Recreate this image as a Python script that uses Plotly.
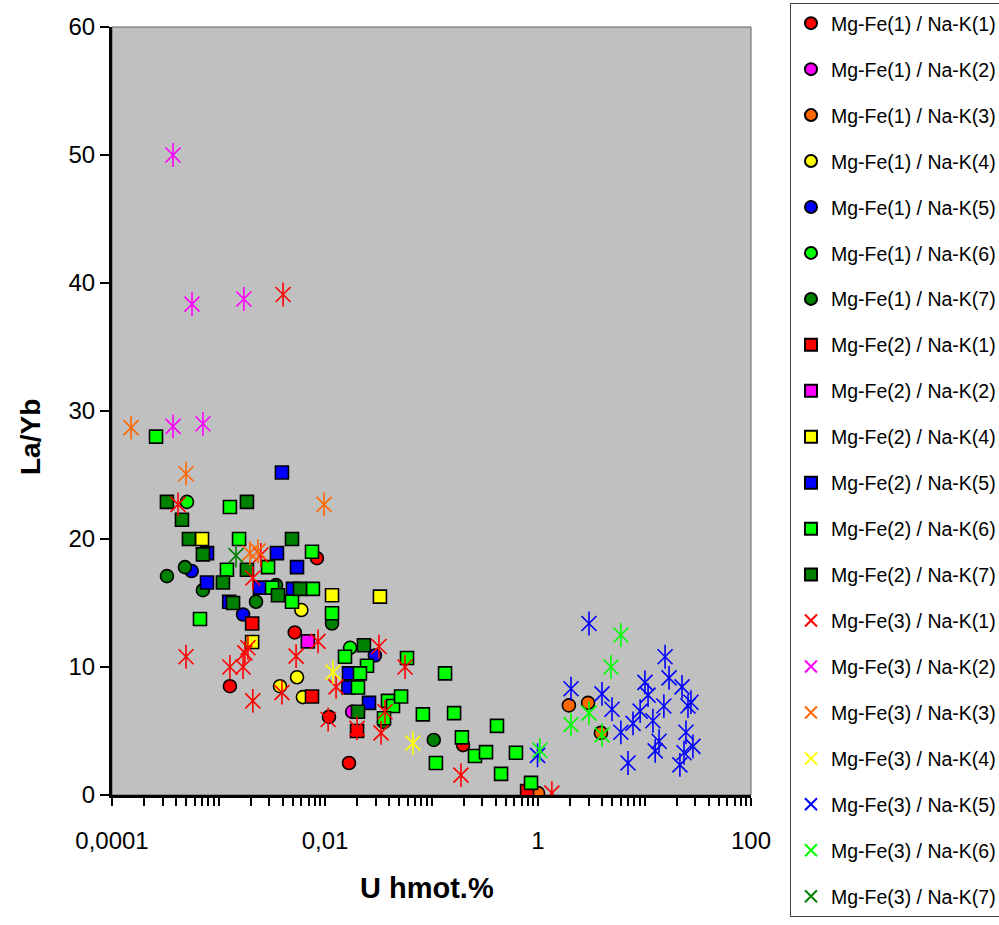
import plotly.graph_objects as go

# ---------------- data (U hmot.% , La/Yb) ----------------
mf1_nk1_u = [0.0084, 0.00128, 0.0052, 0.0109, 0.0168, 0.198]
mf1_nk1_r = [18.5, 8.5, 12.7, 6.1, 2.5, 3.9]
mf1_nk2_u = [0.018]
mf1_nk2_r = [6.5]
mf1_nk3_u = [1.95, 2.95, 3.9, 1.0]
mf1_nk3_r = [7.0, 7.2, 4.85, 0.15]
mf1_nk4_u = [0.006, 0.00546, 0.00378, 0.0062]
mf1_nk4_r = [14.45, 9.2, 8.5, 7.65]
mf1_nk5_u = [0.00056, 0.0017, 0.0294]
mf1_nk5_r = [17.5, 14.1, 10.9]
mf1_nk6_u = [0.000506, 0.0172]
mf1_nk6_r = [22.9, 11.5]
mf1_nk7_u = [0.000328, 0.000484, 0.000714, 0.00225, 0.00347, 0.01164, 0.0358, 0.105]
mf1_nk7_r = [17.1, 17.8, 16.0, 15.1, 16.4, 13.4, 5.7, 4.3]

mf2_nk1_u = [0.00207, 0.00755, 0.02, 0.79]
mf2_nk1_r = [13.4, 7.7, 5.0, 0.3]
mf2_nk2_u = [0.0069]
mf2_nk2_r = [12.0]
mf2_nk4_u = [0.0007, 0.01164, 0.0328, 0.00207]
mf2_nk4_r = [20.0, 15.6, 15.5, 11.95]
mf2_nk5_u = [0.00394, 0.00354, 0.00078, 0.00078, 0.00245, 0.00126, 0.00546, 0.005,
             0.0168, 0.0166, 0.0259]
mf2_nk5_r = [25.2, 18.9, 18.9, 16.6, 16.2, 15.1, 17.8, 16.1, 9.5, 8.4, 7.2]
mf2_nk6_u = [0.000259, 0.00128, 0.00156, 0.00755, 0.0012, 0.00292, 0.00318, 0.0077,
             0.0049, 0.00067, 0.01164, 0.0154, 0.0248, 0.0213, 0.0204, 0.0589,
             0.039, 0.0435, 0.0518, 0.0358, 0.083, 0.134, 0.163, 0.193, 0.256,
             0.325, 0.412, 0.621, 0.110, 0.45, 0.86]
mf2_nk6_r = [28.0, 22.5, 20.0, 19.0, 17.6, 17.8, 16.2, 16.1, 15.1, 13.75, 14.2, 10.8,
             10.1, 9.5, 8.4, 10.7, 7.35, 6.95, 7.7, 6.0, 6.3, 9.5, 6.4, 4.5, 3.05,
             3.35, 5.4, 3.3, 2.5, 1.65, 0.95]
mf2_nk7_u = [0.000328, 0.000454, 0.000528, 0.00185, 0.0049, 0.000714, 0.0011, 0.00185,
             0.00582, 0.00362, 0.00137, 0.0232, 0.0204]
mf2_nk7_r = [22.9, 21.5, 20.0, 22.9, 20.0, 18.8, 16.6, 17.6, 16.1, 15.6, 15.0, 11.7, 6.5]

mf3_nk1_u = [0.00404, 0.000417, 0.0025, 0.0021, 0.000495, 0.00128, 0.0017, 0.00177,
             0.00189, 0.0021, 0.00394, 0.00535, 0.0086, 0.0127, 0.0107, 0.0321,
             0.0564, 0.02, 0.0366, 0.0336, 0.189, 1.35]
mf3_nk1_r = [39.1, 22.7, 18.75, 16.95, 10.8, 10.0, 10.0, 11.1, 11.5, 7.35, 8.0, 10.85,
             12.0, 8.45, 5.9, 11.6, 10.0, 5.2, 6.5, 4.85, 1.55, 0.15]
mf3_nk2_u = [0.000374, 0.000564, 0.00173, 0.000374, 0.000714]
mf3_nk2_r = [50.0, 38.35, 38.75, 28.8, 29.0]
mf3_nk3_u = [0.000151, 0.000495, 0.0098, 0.00197, 0.00235]
mf3_nk3_r = [28.7, 25.1, 22.7, 18.9, 19.05]
mf3_nk4_u = [0.0119, 0.067]
mf3_nk4_r = [9.6, 4.05]
mf3_nk5_u = [3.01, 2.04, 3.99, 4.95, 6.0, 7.0, 7.8, 9.1, 10.1, 10.8, 12.0, 13.7, 12.6,
             15.2, 15.6, 17.0, 22.5, 24.5, 25.6, 27.3, 23.5, 21.5, 28.5, 0.99]
mf3_nk5_r = [13.4, 8.3, 7.9, 6.7, 4.9, 2.5, 5.6, 6.55, 8.8, 7.8, 5.8, 4.2, 3.45,
             6.95, 10.8, 9.15, 8.45, 4.9, 6.95, 7.25, 3.3, 2.35, 3.8, 3.1]
mf3_nk6_u = [6.0, 4.84, 3.01, 2.04, 3.99, 1.04]
mf3_nk6_r = [12.5, 10.0, 6.4, 5.5, 4.7, 3.5]
mf3_nk7_u = [0.00146]
mf3_nk7_r = [18.7]

x_tick_vals = [0.0001, 0.001, 0.01, 0.1, 1, 10, 100]
x_tick_text = ["0,0001", "", "0,01", "", "1", "", "100"]
y_tick_vals = [0, 10, 20, 30, 40, 50, 60]

# ---------------- series definitions ----------------
RED, MAG, ORA, YEL, BLU, LGR, DGR = ("#FF0000", "#FF00FF", "#FF6600", "#FFFF00",
                                     "#0000FF", "#00FF00", "#008000")
series = [
    ("Mg-Fe(1) / Na-K(1)", mf1_nk1_u, mf1_nk1_r, "circle", RED),
    ("Mg-Fe(1) / Na-K(2)", mf1_nk2_u, mf1_nk2_r, "circle", MAG),
    ("Mg-Fe(1) / Na-K(3)", mf1_nk3_u, mf1_nk3_r, "circle", ORA),
    ("Mg-Fe(1) / Na-K(4)", mf1_nk4_u, mf1_nk4_r, "circle", YEL),
    ("Mg-Fe(1) / Na-K(5)", mf1_nk5_u, mf1_nk5_r, "circle", BLU),
    ("Mg-Fe(1) / Na-K(6)", mf1_nk6_u, mf1_nk6_r, "circle", LGR),
    ("Mg-Fe(1) / Na-K(7)", mf1_nk7_u, mf1_nk7_r, "circle", DGR),
    ("Mg-Fe(2) / Na-K(1)", mf2_nk1_u, mf2_nk1_r, "square", RED),
    ("Mg-Fe(2) / Na-K(2)", mf2_nk2_u, mf2_nk2_r, "square", MAG),
    ("Mg-Fe(2) / Na-K(4)", mf2_nk4_u, mf2_nk4_r, "square", YEL),
    ("Mg-Fe(2) / Na-K(5)", mf2_nk5_u, mf2_nk5_r, "square", BLU),
    ("Mg-Fe(2) / Na-K(6)", mf2_nk6_u, mf2_nk6_r, "square", LGR),
    ("Mg-Fe(2) / Na-K(7)", mf2_nk7_u, mf2_nk7_r, "square", DGR),
    ("Mg-Fe(3) / Na-K(1)", mf3_nk1_u, mf3_nk1_r, "star", RED),
    ("Mg-Fe(3) / Na-K(2)", mf3_nk2_u, mf3_nk2_r, "star", MAG),
    ("Mg-Fe(3) / Na-K(3)", mf3_nk3_u, mf3_nk3_r, "star", ORA),
    ("Mg-Fe(3) / Na-K(4)", mf3_nk4_u, mf3_nk4_r, "star", YEL),
    ("Mg-Fe(3) / Na-K(5)", mf3_nk5_u, mf3_nk5_r, "star", BLU),
    ("Mg-Fe(3) / Na-K(6)", mf3_nk6_u, mf3_nk6_r, "star", LGR),
    ("Mg-Fe(3) / Na-K(7)", mf3_nk7_u, mf3_nk7_r, "star", DGR),
]

fig = go.Figure()
for i, (name, xs, ys, kind, col) in enumerate(series):
    grp = f"g{i}"
    if kind in ("circle", "square"):
        fig.add_trace(go.Scatter(
            x=xs, y=ys, mode="markers", name=name, legendgroup=grp,
            marker=dict(symbol=kind, size=13, color=col,
                        line=dict(color="black", width=1.6))))
    else:
        fig.add_trace(go.Scatter(
            x=xs, y=ys, mode="markers", name=name, legendgroup=grp,
            marker=dict(symbol="x-thin-open", size=15, color=col,
                        line=dict(color=col, width=1.6))))
        fig.add_trace(go.Scatter(
            x=xs, y=ys, mode="markers", name=name, legendgroup=grp,
            showlegend=False, hoverinfo="skip",
            marker=dict(symbol="line-ns-open", size=17, color=col,
                        line=dict(color=col, width=1.6))))

minor_vals = [k * 10.0 ** d for d in range(-4, 2) for k in range(2, 10)]
FONT = "Liberation Sans, Arial, sans-serif"

fig.update_layout(
    width=999, height=925,
    margin=dict(l=112, r=248, t=27, b=130, autoexpand=False),
    paper_bgcolor="white", plot_bgcolor="#C0C0C0",
    font=dict(family=FONT, color="black"),
    showlegend=True,
    legend=dict(x=1.061, y=1.03125, xanchor="left", yanchor="top",
                bgcolor="white", bordercolor="#404040", borderwidth=1,
                font=dict(size=19.5, family=FONT), traceorder="grouped",
                tracegroupgap=17.6, itemsizing="constant", maxheight=1200),
    xaxis=dict(type="log", range=[-4, 2], tickvals=x_tick_vals, ticktext=x_tick_text,
               ticks="outside", ticklen=8, tickwidth=1.5, tickcolor="black",
               showline=True, linecolor="black", linewidth=3,
               showgrid=False, zeroline=False,
               tickfont=dict(size=24, family=FONT), ticklabelstandoff=14,
               minor=dict(tickvals=minor_vals, ticks="outside", ticklen=8,
                          tickwidth=1.5, tickcolor="black", showgrid=False)),
    yaxis=dict(range=[0, 60], tickvals=y_tick_vals,
               ticks="outside", ticklen=9, tickwidth=1.5, tickcolor="black",
               showline=True, linecolor="black", linewidth=3,
               showgrid=False, zeroline=False,
               tickfont=dict(size=24, family=FONT), ticklabelstandoff=0),
    shapes=[dict(type="rect", xref="paper", yref="paper", x0=0, x1=1, y0=0, y1=1,
                 line=dict(color="#606060", width=1), layer="below")],
    annotations=[
        dict(text="<b>U hmot.%</b>", xref="paper", yref="paper",
             x=(427 - 112) / 639, y=(795 - 888) / 768, showarrow=False,
             xanchor="center", yanchor="middle", font=dict(size=29, family=FONT)),
        dict(text="<b>La/Yb</b>", xref="paper", yref="paper",
             x=(30 - 112) / 639, y=(795 - 437) / 768, showarrow=False, textangle=-90,
             xanchor="center", yanchor="middle", font=dict(size=28, family=FONT)),
    ],
)

fig.write_html("out.html")
